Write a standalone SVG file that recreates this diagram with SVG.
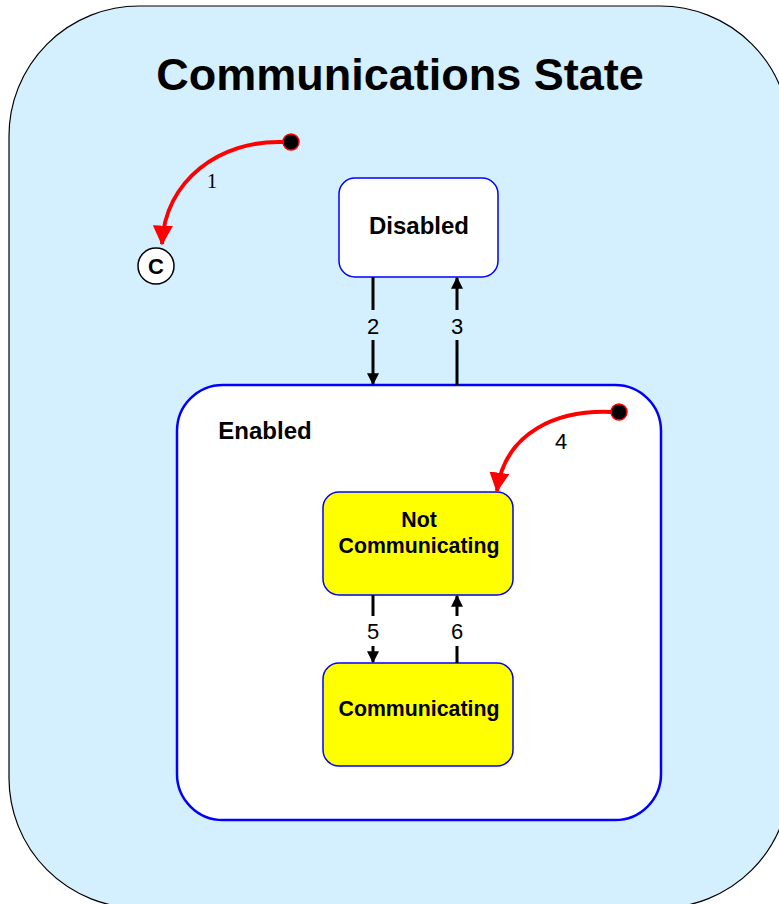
<svg xmlns="http://www.w3.org/2000/svg" width="779" height="904" viewBox="0 0 779 904">
<style>
.lbl{font-family:"Liberation Sans",Arial,sans-serif;font-weight:bold;fill:#000;text-anchor:middle}
.num{font-family:"Liberation Sans",Arial,sans-serif;font-size:22px;fill:#000;text-anchor:middle}
.st{stroke:#0000ff;stroke-width:1.5}
.tr{stroke:#000;stroke-width:3;fill:none}
.red{stroke:#ff0000;stroke-width:4;fill:none}
</style>
<defs>
<marker id="ah" markerWidth="4" markerHeight="4" refX="3.6" refY="2" orient="auto" markerUnits="strokeWidth">
<path d="M0,0 L4,2 L0,4 z" fill="#000"/>
</marker>
<marker id="ahr" markerWidth="5" markerHeight="5" refX="4.6" refY="2.5" orient="auto" markerUnits="strokeWidth">
<path d="M0,0 L5,2.5 L0,5 z" fill="#ff0000"/>
</marker>
</defs>
<g id="root">
<rect x="9" y="6" width="781" height="902" rx="130" fill="#d4effe" stroke="#000" stroke-width="1.2"/>
<text class="lbl" x="400" y="90" font-size="45">Communications State</text>
</g>
<g id="enabled">
<rect x="177" y="385" width="484" height="435" rx="46" fill="#fff" stroke="#0000ff" stroke-width="2.5"/>
<text class="lbl" x="265" y="439" font-size="24">Enabled</text>
</g>
<g id="disabled">
<rect class="st" x="339" y="178" width="159" height="99" rx="16" fill="#fff"/>
<text class="lbl" x="419" y="234" font-size="24">Disabled</text>
</g>
<g id="notcomm">
<rect class="st" x="323" y="492" width="190" height="103" rx="16" fill="#ffff00"/>
<text class="lbl" x="419" y="527" font-size="21.3">Not</text>
<text class="lbl" x="419" y="553" font-size="21.3">Communicating</text>
</g>
<g id="comm">
<rect class="st" x="323" y="663" width="190" height="103" rx="16" fill="#ffff00"/>
<text class="lbl" x="419" y="716" font-size="21.3">Communicating</text>
</g>
<g id="choice">
<circle cx="156" cy="266" r="18" fill="#fff" stroke="#000" stroke-width="1.5"/>
<text class="lbl" x="156" y="274" font-size="22">C</text>
</g>
<g id="init1">
<circle cx="291" cy="142" r="8" fill="#000" stroke="#ff0000" stroke-width="1.5"/>
</g>
<g id="init4">
<circle cx="619" cy="412" r="8" fill="#000" stroke="#ff0000" stroke-width="1.5"/>
</g>
<g id="connectors">
<path class="red" d="M283,142 C220,140 165,180 162,244" marker-end="url(#ahr)"/>
<text x="212" y="188" font-family="Liberation Serif,serif" font-size="21" text-anchor="middle">1</text>
<path class="red" d="M611,412 C560,410 505,430 497,491" marker-end="url(#ahr)"/>
<text class="num" x="561" y="449">4</text>
<line class="tr" x1="373" y1="277" x2="373" y2="310"/>
<line class="tr" x1="373" y1="340" x2="373" y2="384" marker-end="url(#ah)"/>
<text class="num" x="373" y="334">2</text>
<line class="tr" x1="457" y1="385" x2="457" y2="340"/>
<line class="tr" x1="457" y1="310" x2="457" y2="278" marker-end="url(#ah)"/>
<text class="num" x="457" y="334">3</text>
<line class="tr" x1="373" y1="595" x2="373" y2="616"/>
<line class="tr" x1="373" y1="646" x2="373" y2="662" marker-end="url(#ah)"/>
<text class="num" x="373" y="639">5</text>
<line class="tr" x1="457" y1="663" x2="457" y2="646"/>
<line class="tr" x1="457" y1="616" x2="457" y2="596" marker-end="url(#ah)"/>
<text class="num" x="457" y="639">6</text>
</g>
</svg>
